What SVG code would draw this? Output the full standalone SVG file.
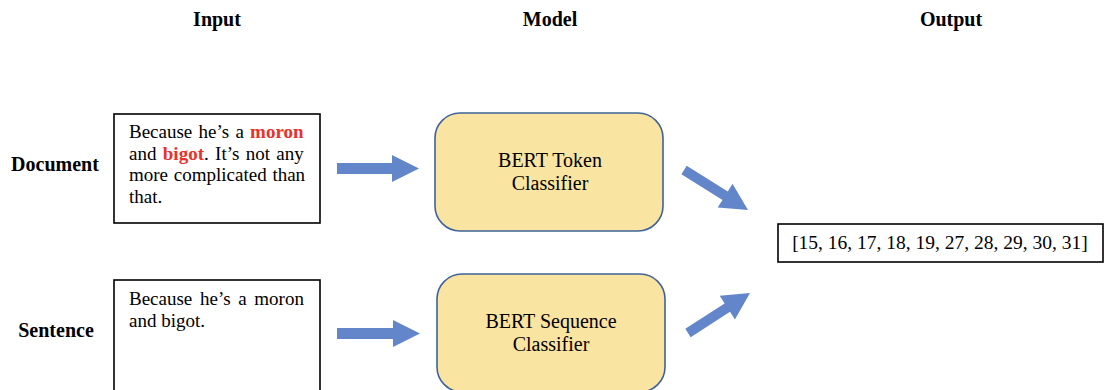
<svg xmlns="http://www.w3.org/2000/svg" width="1114" height="390" viewBox="0 0 1114 390">
  <style>
    .hdr { font-family: "Liberation Serif", "Times New Roman", serif; font-weight: bold; font-size: 20px; fill: #000; }
    .body { font-family: "Liberation Serif", "Times New Roman", serif; font-size: 19px; fill: #000; }
    .model { font-family: "Liberation Serif", "Times New Roman", serif; font-size: 20px; fill: #000; text-anchor: middle; }
    .hl { font-weight: bold; fill: #E8322B; }
    .inbox { fill: #fff; stroke: #000; stroke-width: 1.6; }
    .clf { fill: #FAE4A1; stroke: #3F6398; stroke-width: 1.6; }
    .arrow { fill: #6386CA; }
  </style>

  <!-- column headers -->
  <g id="headers">
    <text class="hdr" x="217" y="26" text-anchor="middle">Input</text>
    <text class="hdr" x="550" y="26" text-anchor="middle">Model</text>
    <text class="hdr" x="951" y="26" text-anchor="middle">Output</text>
  </g>

  <!-- row labels -->
  <g id="row-labels">
    <text class="hdr" x="55" y="171" text-anchor="middle">Document</text>
    <text class="hdr" x="56" y="337" text-anchor="middle">Sentence</text>
  </g>

  <!-- document input -->
  <g id="doc-input">
    <rect class="inbox" x="114" y="114" width="206" height="109"/>
    <text class="body" x="129" y="138" word-spacing="1.5">Because he’s a <tspan class="hl">moron</tspan></text>
    <text class="body" x="129" y="160" word-spacing="1.6">and <tspan class="hl">bigot</tspan>. It’s not any</text>
    <text class="body" x="129" y="181" word-spacing="1">more complicated than</text>
    <text class="body" x="129" y="203">that.</text>
  </g>

  <!-- sentence input -->
  <g id="sent-input">
    <rect class="inbox" x="114" y="280" width="206" height="120"/>
    <text class="body" x="129" y="305" word-spacing="2.9">Because he’s a moron</text>
    <text class="body" x="129" y="327">and bigot.</text>
  </g>

  <!-- classifiers -->
  <g id="token-classifier">
    <rect class="clf" x="435" y="113" width="228" height="118" rx="25" ry="25"/>
    <text class="model" x="550" y="167">BERT Token</text>
    <text class="model" x="550" y="190">Classifier</text>
  </g>
  <g id="sequence-classifier">
    <rect class="clf" x="437" y="274" width="228" height="118" rx="25" ry="25"/>
    <text class="model" x="551" y="328">BERT Sequence</text>
    <text class="model" x="551" y="351">Classifier</text>
  </g>

  <!-- output -->
  <g id="output">
    <rect class="inbox" x="778" y="224" width="325" height="38"/>
    <text class="body" x="940" y="249" text-anchor="middle" style="font-size:19.5px">[15, 16, 17, 18, 19, 27, 28, 29, 30, 31]</text>
  </g>

  <!-- block arrows -->
  <g id="connectors">
    <polygon class="arrow" points="337,163 392,163 392,155 419,168.5 392,182 392,174 337,174"/>
    <polygon class="arrow" points="337,328 393,328 393,320 420,333.5 393,347 393,339 337,339"/>
    <polygon class="arrow" points="681.4,174.2 722.5,199.9 717.7,207.6 748,210 732.5,183.8 727.8,191.5 686.7,165.8"/>
    <polygon class="arrow" points="690.7,337.2 730,311.8 734.9,319.4 750,293 719.7,295.8 724.6,303.4 685.3,328.8"/>
  </g>
</svg>
